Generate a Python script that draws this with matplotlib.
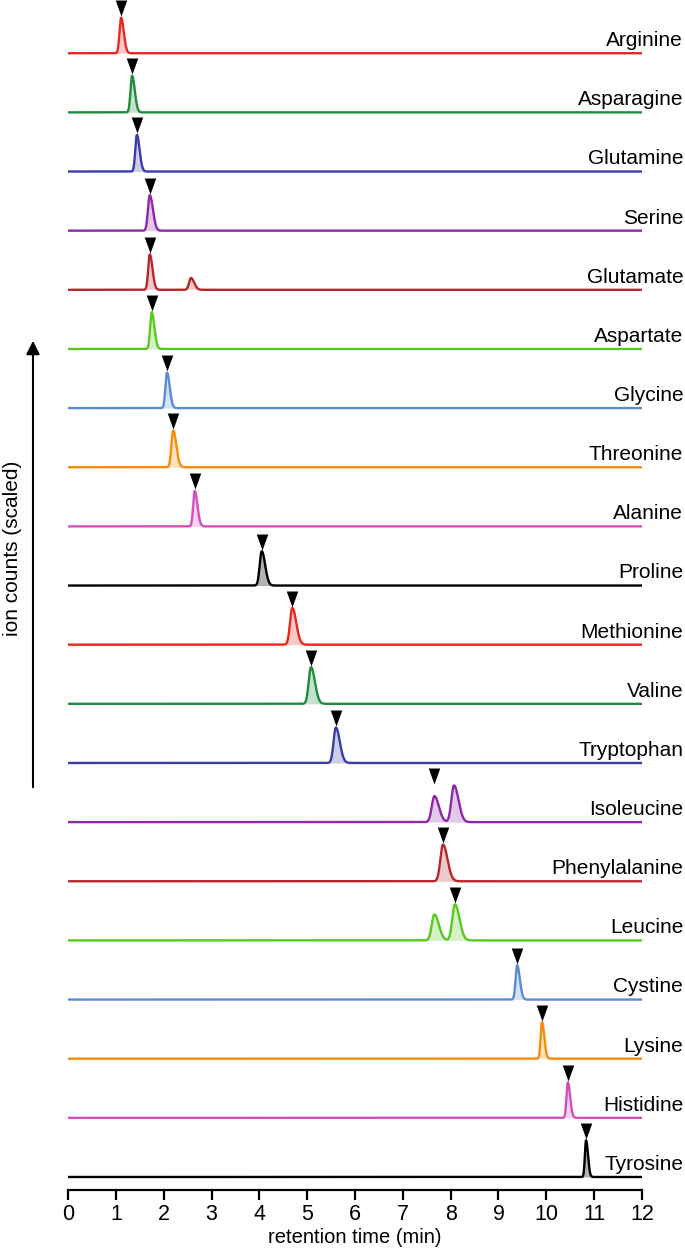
import matplotlib.pyplot as plt
import numpy as np
from matplotlib.patches import FancyArrowPatch

plt.rcParams['font.family'] = ['Liberation Sans', 'DejaVu Sans']

# amino acids, top to bottom
names = ['Arginine', 'Asparagine', 'Glutamine', 'Serine', 'Glutamate', 'Aspartate',
         'Glycine', 'Threonine', 'Alanine', 'Proline', 'Methionine', 'Valine',
         'Tryptophan', 'Isoleucine', 'Phenylalanine', 'Leucine', 'Cystine',
         'Lysine', 'Histidine', 'Tyrosine']
# retention time of the marked peak (min)
rt = [1.11, 1.34, 1.44, 1.71, 1.71, 1.75, 2.07, 2.20, 2.65, 4.05, 4.69, 5.08,
      5.60, 7.66, 7.84, 8.09, 9.39, 9.91, 10.45, 10.83]
# peak height relative to trace spacing
height = [0.60, 0.62, 0.62, 0.60, 0.60, 0.62, 0.60, 0.62, 0.60, 0.58, 0.62, 0.62,
          0.60, 0.44, 0.62, 0.61, 0.58, 0.62, 0.60, 0.62]
# peak width (sigma, min)
width = [0.033, 0.033, 0.033, 0.038, 0.033, 0.033, 0.033, 0.038, 0.033, 0.042, 0.048, 0.048,
         0.048, 0.055, 0.055, 0.055, 0.033, 0.028, 0.028, 0.024]
colors = ['#e8281e', '#1e8c3c', '#3c3ca8', '#8c28a8', '#b4282d', '#5ac81e',
          '#5a8cd2', '#f58c0a', '#d250be', '#000000'] * 2

# secondary (unmarked) peaks: trace name, rt, height, sigma
extra_name = ['Glutamate', 'Isoleucine', 'Leucine']
extra_rt = [2.57, 8.07, 7.66]
extra_height = [0.20, 0.62, 0.44]
extra_width = [0.04, 0.055, 0.055]

t = np.linspace(0, 12, 4000)


def peak(center, h, s):
    # slightly tailing gaussian
    sig = np.where(t < center, s, s * 1.7)
    return h * np.exp(-0.5 * ((t - center) / sig) ** 2)


tri = [(-0.36, 0.5), (0.36, 0.5), (0, -0.5)]

fig = plt.figure(figsize=(6.85, 12.48), dpi=100)
ax = fig.add_axes([68 / 685, 58 / 1248, (642 - 68) / 685, 1190 / 1248])

n = len(names)
for i, name in enumerate(names):
    base = n - 1 - i
    y = peak(rt[i], height[i], width[i])
    for en, er, eh, ew in zip(extra_name, extra_rt, extra_height, extra_width):
        if en == name:
            y = y + peak(er, eh, ew)
    c = colors[i]
    black = c == '#000000'
    ax.fill_between(t, base, base + y, where=y > 0.01,
                    color='#808080' if black else c,
                    alpha=0.6 if black else 0.25, lw=0)
    ax.plot(t, base + y, color=c, lw=1.7)
    ax.plot(rt[i], base + y.max() + 0.16, marker=tri, color='black', ms=11.5, mew=0)
    ax.text(12.86, base + 0.12, name, ha='right', va='baseline', fontsize=15,
            clip_on=False)

ax.set_xlim(0, 12)
ax.set_ylim(-0.22, n - 1 + 0.9)
ax.set_xticks(range(13))
ax.set_yticks([])
for s in ['left', 'right', 'top']:
    ax.spines[s].set_visible(False)
ax.spines['bottom'].set_linewidth(1.6)
ax.tick_params(axis='x', direction='out', length=7, width=1.6, labelsize=15.5, pad=3)
ax.set_xlabel('retention time (min)', fontsize=14.5, labelpad=2)

# arrow along y
fig.add_artist(FancyArrowPatch(
    (33 / 685, 1 - 790 / 1248), (33 / 685, 1 - 338 / 1248),
    transform=fig.transFigure, arrowstyle='-|>', mutation_scale=20,
    color='black', lw=1.5))
fig.text(13 / 685, 1 - 548 / 1248, 'ion counts (scaled)', rotation=90,
         ha='center', va='center', fontsize=15)

fig.savefig('out.png', dpi=100)
